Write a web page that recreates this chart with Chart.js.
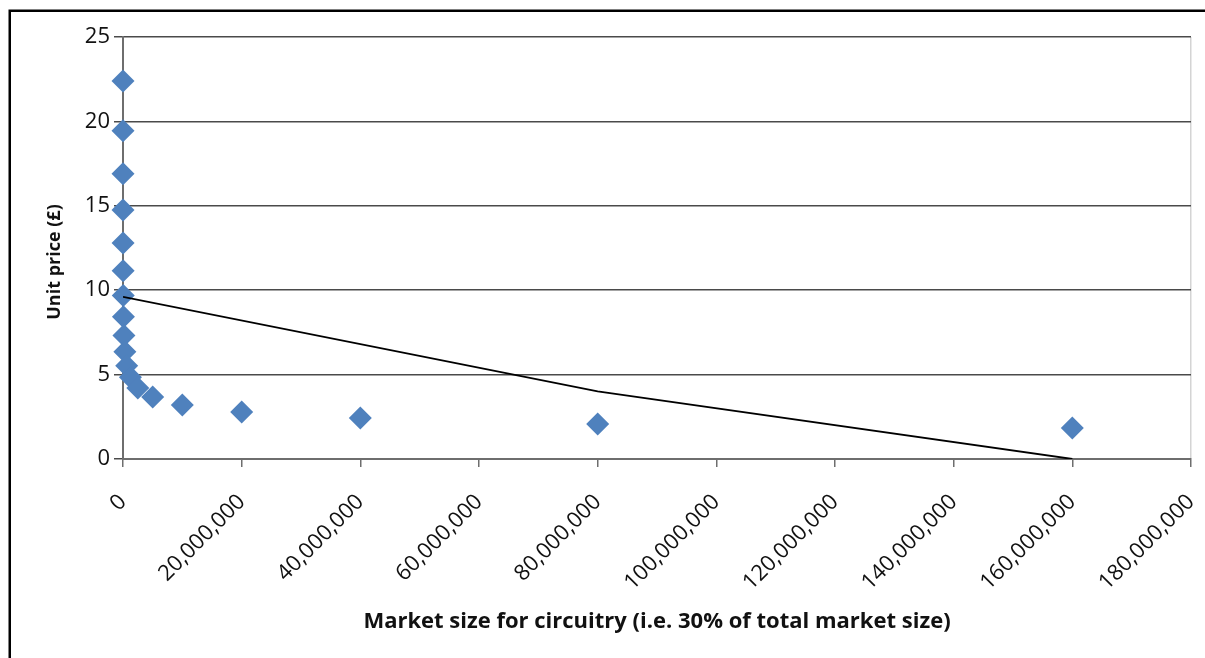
<!DOCTYPE html>
<html><head><meta charset="utf-8">
<script src="https://cdn.jsdelivr.net/npm/chart.js@4.4.1/dist/chart.umd.min.js"></script>
<style>html,body{margin:0;padding:0;background:#fff;}</style>
</head><body>
<canvas id="c" width="1205" height="658"></canvas>
<script>
// Scatter data: market size (units) vs unit price (£)
const marketSize = [610, 1220, 2441, 4883, 9766, 19531, 39063, 78125, 156250, 312500, 625000, 1250000, 2500000, 5000000, 10000000, 20000000, 40000000, 80000000, 160000000];
const unitPrice  = [22.4, 19.45, 16.9, 14.75, 12.8, 11.15, 9.68, 8.42, 7.32, 6.35, 5.52, 4.85, 4.2, 3.67, 3.2, 2.78, 2.43, 2.08, 1.84];
// Black line series
const lineX = [0, 80000000, 160000000];
const lineY = [9.6, 4.0, 0];
// Axis ranges / tick steps
const xMin = 0, xMax = 180000000, xStep = 20000000;
const yMin = 0, yMax = 25, yStep = 5;
const xTitle = 'Market size for circuitry (i.e. 30% of total market size)';
const yTitle = 'Unit price (£)';

const framePlugin = {
  id: 'frame',
  beforeDraw(chart) {
    const ctx = chart.ctx;
    ctx.save();
    ctx.fillStyle = '#fff';
    ctx.fillRect(0, 0, chart.width, chart.height);
    ctx.strokeStyle = '#000';
    ctx.lineWidth = 2.5;
    ctx.beginPath();
    ctx.moveTo(9.75, chart.height);
    ctx.lineTo(9.75, 10.75);
    ctx.lineTo(chart.width, 10.75);
    ctx.stroke();
    ctx.restore();
  },
  afterDraw(chart) {
    const ctx = chart.ctx;
    const a = chart.chartArea;
    ctx.save();
    ctx.translate(55, (a.top + a.bottom) / 2 + 14);
    ctx.rotate(-Math.PI / 2);
    ctx.font = 'bold 18px "Open Sans"';
    ctx.fillStyle = '#111';
    ctx.textAlign = 'center';
    ctx.textBaseline = 'middle';
    ctx.fillText(yTitle, 0, 0);
    ctx.restore();
  }
};

const tickFont = {family: 'Open Sans', size: 22};
const titleFont = {family: 'Open Sans', size: 22, weight: 'bold'};

new Chart(document.getElementById('c'), {
  type: 'scatter',
  data: {
    datasets: [
      {
        data: lineX.map((x, i) => ({x: x, y: lineY[i]})),
        showLine: true,
        borderColor: '#000',
        borderWidth: 1.8,
        pointRadius: 0,
        tension: 0,
        fill: false,
        order: 0
      },
      {
        data: marketSize.map((x, i) => ({x: x, y: unitPrice[i]})),
        pointStyle: 'rectRot',
        pointRadius: 11.5,
        backgroundColor: '#4F81BD',
        borderColor: '#4F81BD',
        borderWidth: 0,
        clip: false,
        order: 1
      }
    ]
  },
  options: {
    responsive: false,
    animation: false,
    devicePixelRatio: 1,
    layout: {padding: {left: 0, top: 37, right: 14, bottom: 0}},
    plugins: {legend: {display: false}, tooltip: {enabled: false}},
    scales: {
      x: {
        type: 'linear', min: xMin, max: xMax,
        ticks: {
          stepSize: xStep, minRotation: 45, maxRotation: 45, autoSkip: false,
          padding: 22, color: '#111', font: tickFont,
          callback: v => Number(v).toLocaleString('en-US')
        },
        grid: {
          color: c => (c.tick && c.tick.value === xMax) ? '#d4d4d4' : 'rgba(0,0,0,0)',
          tickColor: '#6e6e6e', tickLength: 8, lineWidth: 1.5
        },
        border: {color: '#6e6e6e', width: 2},
        title: {display: true, text: xTitle, color: '#111', font: titleFont, padding: {top: 0, bottom: 23}},
        afterFit: s => { s.height = 199; s.paddingRight = 14; }
      },
      y: {
        min: yMin, max: yMax,
        ticks: {stepSize: yStep, padding: 4, color: '#111', font: tickFont},
        grid: {color: '#4a4a4a', lineWidth: 1.5, tickLength: 9, tickColor: '#4a4a4a'},
        border: {color: '#6e6e6e', width: 2},
        title: {display: false},
        afterFit: s => { s.width = 123; }
      }
    }
  },
  plugins: [framePlugin]
});
</script>
</body></html>
